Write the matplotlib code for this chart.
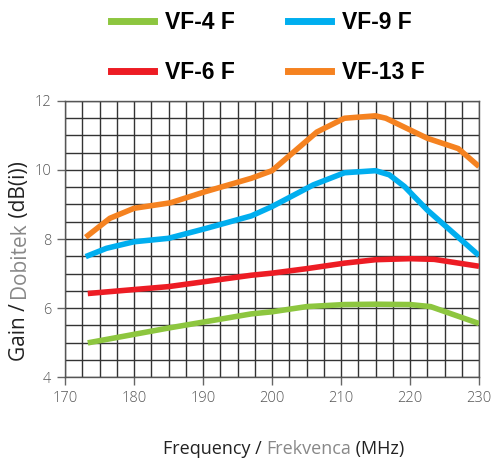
import matplotlib.pyplot as plt
from matplotlib.lines import Line2D
from matplotlib.ticker import MultipleLocator

freq_vf4 = [173.3, 185.0, 197.0, 200.0, 205.0, 210.5, 215.0, 220.0, 223.0, 230.0]
gain_vf4 = [4.99, 5.42, 5.83, 5.89, 6.04, 6.10, 6.11, 6.10, 6.04, 5.55]

freq_vf6 = [173.3, 185.0, 197.0, 200.0, 205.0, 210.5, 215.0, 220.0, 223.5, 230.0]
gain_vf6 = [6.42, 6.62, 6.95, 7.01, 7.14, 7.30, 7.40, 7.43, 7.41, 7.21]

freq_vf9 = [173.0, 176.0, 180.0, 185.0, 190.5, 197.0, 200.0, 206.0, 210.5, 215.0, 217.0, 219.2, 222.5, 230.0]
gain_vf9 = [7.49, 7.73, 7.92, 8.02, 8.31, 8.67, 8.94, 9.57, 9.92, 9.98, 9.86, 9.52, 8.84, 7.52]

freq_vf13 = [173.0, 176.5, 180.0, 185.3, 190.3, 197.0, 200.0, 206.5, 210.5, 215.0, 216.5, 222.5, 227.0, 230.0]
gain_vf13 = [8.05, 8.60, 8.89, 9.05, 9.37, 9.76, 9.98, 11.10, 11.50, 11.57, 11.50, 10.92, 10.62, 10.10]

series = [
    ("VF-4 F", freq_vf4, gain_vf4, "#8DC63F"),
    ("VF-6 F", freq_vf6, gain_vf6, "#ED1C24"),
    ("VF-9 F", freq_vf9, gain_vf9, "#00AEEF"),
    ("VF-13 F", freq_vf13, gain_vf13, "#F58220"),
]

plt.rcParams['font.family'] = ['Open Sans', 'DejaVu Sans']

fig = plt.figure(figsize=(4.91, 4.63), dpi=100)
ax = fig.add_axes([0.1324, 0.1857, 0.8432, 0.5962])

for name, f, g, c in series:
    ax.plot(f, g, color=c, lw=4, solid_capstyle='butt', label=name, zorder=3)

ax.set_xlim(170, 230)
ax.set_ylim(4, 12)
ax.xaxis.set_major_locator(MultipleLocator(10))
ax.xaxis.set_minor_locator(MultipleLocator(2.5))
ax.yaxis.set_major_locator(MultipleLocator(2))
ax.yaxis.set_minor_locator(MultipleLocator(0.5))
ax.grid(which='both', color='#333333', lw=1.0, zorder=1)
ax.tick_params(which='major', length=6, width=1, color='#666666',
               labelsize=10.5, labelcolor='#555555', pad=4)
ax.tick_params(which='minor', length=0)
for lab in ax.get_xticklabels() + ax.get_yticklabels():
    lab.set_fontweight('light')
for s in ax.spines.values():
    s.set_color('#555555')
    s.set_linewidth(1)

# axis labels with a grey middle word
fig.canvas.draw()
r = fig.canvas.get_renderer()

def pieces_h(x, y, parts, size):
    texts = []
    for t, c in parts:
        txt = fig.text(x, y, t, color=c, fontsize=size, va='baseline')
        texts.append(txt)
        bb = txt.get_window_extent(r)
        x += bb.width / fig.bbox.width
    total = x - texts[0].get_position()[0]
    for txt in texts:
        px, py = txt.get_position()
        txt.set_x(px - total / 2)

def pieces_v(x, y, parts, size):
    texts = []
    for t, c in parts:
        txt = fig.text(x, y, t, color=c, fontsize=size, rotation=90,
                       ha='left', va='baseline', rotation_mode='anchor')
        texts.append(txt)
        bb = txt.get_window_extent(r)
        y += bb.height / fig.bbox.height
    total = y - texts[0].get_position()[1]
    for txt in texts:
        px, py = txt.get_position()
        txt.set_y(py - total / 2)

pieces_h(0.577, 0.019, [("Frequency / ", "#222222"), ("Frekvenca", "#888888"),
                        (" (MHz)", "#222222")], 13)
pieces_v(0.050, 0.436, [("Gain / ", "#222222"), ("Dobitek", "#888888"),
                        (" (dB(i))", "#222222")], 15)

handles = [Line2D([], [], color=c, lw=5) for _, _, _, c in series]
fig.legend(handles, [s[0] for s in series], ncol=2, frameon=False,
           loc='upper left', bbox_to_anchor=(0.184, 1.0215),
           prop={'weight': 'bold', 'size': 16.5, 'family': ['Liberation Sans', 'DejaVu Sans']},
           handlelength=1.88, columnspacing=2.3, labelspacing=1.18, handletextpad=0.48)

fig.savefig("out.png", dpi=100)
